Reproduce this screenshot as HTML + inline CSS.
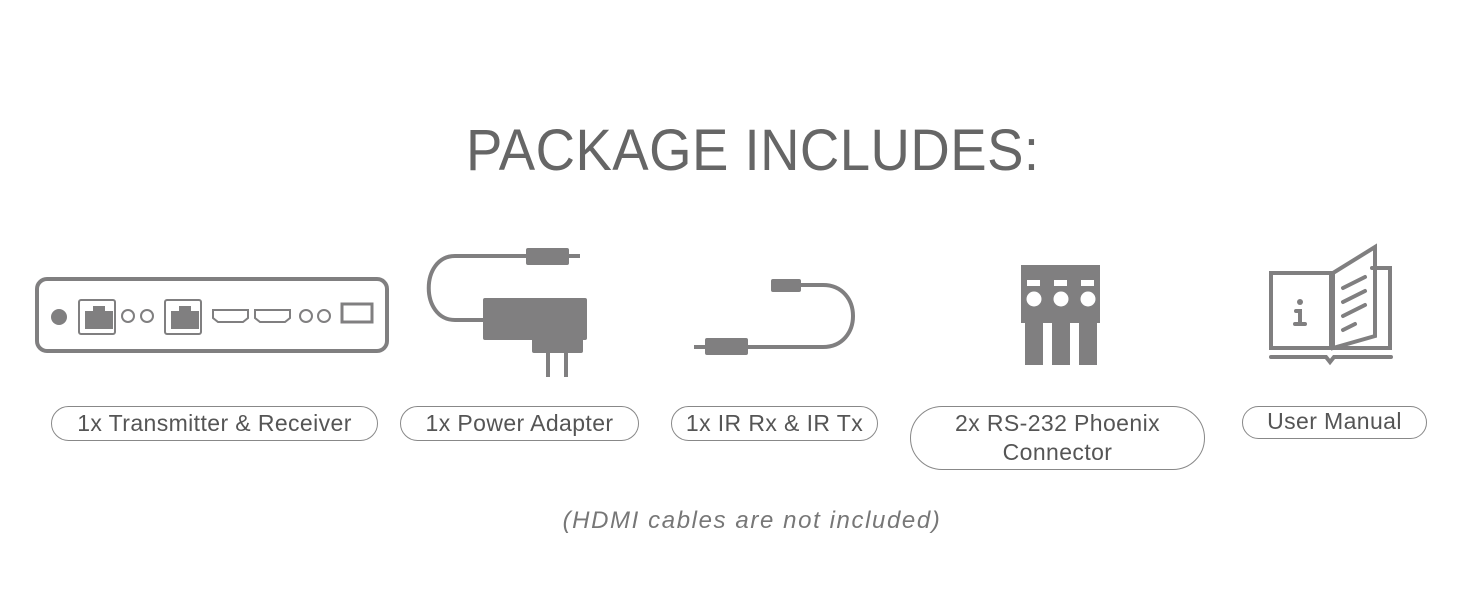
<!DOCTYPE html>
<html><head><style>
body{margin:0;width:1464px;height:600px;background:#fff;position:relative;overflow:hidden;font-family:"Liberation Sans",sans-serif;}
.t{position:absolute;left:466px;top:117px;font-size:58px;color:#666;white-space:nowrap;transform:scaleX(0.94);transform-origin:0 0;letter-spacing:0.5px;}
.p{position:absolute;border:1.3px solid #888;border-radius:20px;color:#555;font-size:23px;text-align:center;box-sizing:border-box;line-height:29px;padding-top:2px;letter-spacing:0.4px;}
.f{position:absolute;left:20px;width:1464px;text-align:center;top:507px;font-size:24px;font-style:italic;color:#777;letter-spacing:1.6px;}
svg{position:absolute;left:0;top:0}
</style></head><body>
<div class="t">PACKAGE INCLUDES:</div>
<svg width="1464" height="600" fill="#807f80" stroke="none">
<rect x="37" y="279" width="350" height="72" rx="10" fill="none" stroke="#807f80" stroke-width="4"/>
<circle cx="59" cy="317" r="8"/>
<g fill="none" stroke="#807f80" stroke-width="2">
<rect x="79" y="300" width="36" height="34" rx="2"/><rect x="165" y="300" width="36" height="34" rx="2"/>
<circle cx="128" cy="316" r="6"/><circle cx="147" cy="316" r="6"/>
<circle cx="306" cy="316" r="6"/><circle cx="324" cy="316" r="6"/>
<path d="M213 310h35v8l-5 4h-25l-5-4z"/><path d="M255 310h35v8l-5 4h-25l-5-4z"/>
<rect x="342" y="304" width="30" height="18" stroke-width="3"/>
</g>
<path d="M85 311h8v-5h12v5h8v18h-28z"/><path d="M171 311h8v-5h12v5h8v18h-28z"/>
<g fill="none" stroke="#807f80" stroke-width="4">
<path d="M528 256H455c-35 0-35 64 0 64h30"/>
<path d="M568 256h12"/>
<path d="M548 340v37M566 340v37"/>
<path d="M694 347h12M748 347h75c40 0 40-62 0-62h-25"/>
</g>
<rect x="526" y="248" width="43" height="17" rx="2"/>
<rect x="483" y="298" width="104" height="42" rx="2"/>
<rect x="532" y="336" width="51" height="17" rx="2"/>
<rect x="705" y="338" width="43" height="17" rx="2"/>
<rect x="771" y="279" width="30" height="13" rx="2"/>
<rect x="1021" y="265" width="79" height="58"/>
<rect x="1025" y="320" width="18" height="45"/><rect x="1052" y="320" width="18" height="45"/><rect x="1079" y="320" width="18" height="45"/>
<g fill="#fff"><rect x="1027" y="280" width="13" height="6"/><rect x="1054" y="280" width="13" height="6"/><rect x="1081" y="280" width="13" height="6"/>
<circle cx="1034" cy="299" r="7.5"/><circle cx="1061" cy="299" r="7.5"/><circle cx="1088" cy="299" r="7.5"/></g>
<g fill="none" stroke="#807f80" stroke-width="4" stroke-linecap="round">
<path d="M1271 273h60v75h-60z"/>
<path d="M1372 268h18v80h-57"/>
<path d="M1333 273l42-26v89l-42 12z"/>
<path d="M1343 288l22-11M1343 302l22-11M1343 316l22-11M1343 330l12-6"/>
<path d="M1271 357h55l4 5 4-5h57"/>
<path d="M1300 324v-13h-4M1295 324h10"/>
</g>
<circle cx="1300" cy="302" r="3"/>
</svg>
<div class="p" style="left:51px;top:406px;width:327px;height:35px;">1x Transmitter &amp; Receiver</div>
<div class="p" style="left:400px;top:406px;width:239px;height:35px;">1x Power Adapter</div>
<div class="p" style="left:671px;top:406px;width:207px;height:35px;">1x IR Rx &amp; IR Tx</div>
<div class="p" style="left:910px;top:406px;width:295px;height:64px;border-radius:32px;">2x RS-232 Phoenix<br>Connector</div>
<div class="p" style="left:1242px;top:406px;width:185px;height:33px;line-height:28px;padding-top:0">User Manual</div>
<div class="f">(HDMI cables are not included)</div>
</body></html>
